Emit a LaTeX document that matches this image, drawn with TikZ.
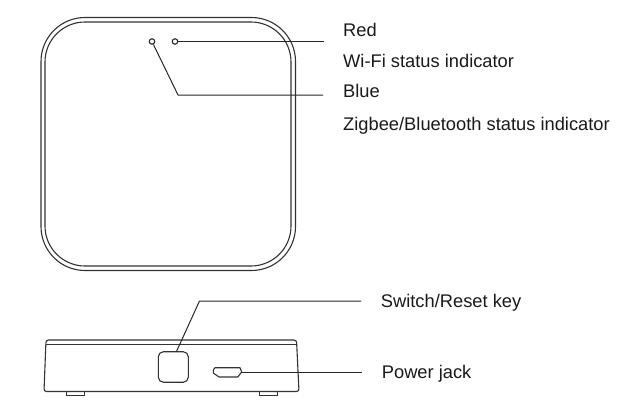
\documentclass[tikz,border=0pt]{standalone}
\usepackage{fontspec}
\setmainfont{Liberation Sans}
\tikzset{
  x=1pt,y=-1pt,
  body/.style={draw=black!80,line width=1.1pt},
  lead/.style={draw=black!85,line width=1pt,line join=round},
  led/.style={circle,draw=black!85,line width=1.1pt,fill=white,minimum size=5.5pt,inner sep=0pt},
  lbl/.style={anchor=base west,inner sep=0pt,font=\fontsize{18.3}{20}\selectfont,text=black!90}
}
\begin{document}
\begin{tikzpicture}
\useasboundingbox (0,0) rectangle (622,418);
% top view
\draw[body,rounded corners=44pt] (41,17.5) rectangle (295.5,270.5);
\draw[body,rounded corners=40pt] (45,22) rectangle (291,266);
\node[led] (ledb) at (152,41.5) {};
\node[led] (ledr) at (175,41.5) {};
\coordinate (redend) at (324,41.5);
\coordinate (bluebend) at (178,95);
\coordinate (blueend) at (323,95);
\draw[lead] (ledr) -- (redend);
\draw[lead] (ledb) -- (bluebend) -- (blueend);
\node[lbl] (t1) at (343,36) {Red};
\node[lbl] (t2) at (343,67) {Wi-Fi status indicator};
\node[lbl] (t3) at (343,97.3) {Blue};
\node[lbl] (t4) at (343,130) {Zigbee/Bluetooth status indicator};
% side view
\draw[body] (66.3,392) -- (66.3,395.5) -- (84.5,395.5) -- (84.5,392);
\draw[body] (259.5,392) -- (259.5,395.5) -- (277.5,395.5) -- (277.5,392);
\draw[body,rounded corners=2.5pt] (44,391.5) -- (46,340) -- (296.5,340) -- (299,391.5) -- cycle;
\draw[body] (45.8,344.5) -- (296.8,344.5);
\node[draw=black!80,line width=1.1pt,rounded corners=5pt,minimum width=30pt,minimum height=30.5pt,inner sep=0pt] (key) at (173.3,367) {};
\draw[body,line join=round] (215,367.7) -- (240,367.7) -- (241.7,372) -- (237.7,377) -- (219,377) -- (213.3,373) -- (213.3,370) -- cycle;
\coordinate (jack) at (241.7,372);
\coordinate (jackend) at (362,372);
\coordinate (keybend) at (199.5,301);
\coordinate (keyend) at (361,301);
\draw[lead] (jack) -- (jackend);
\draw[lead] (key.north) ++(3.3,0) coordinate (keytop) -- (keybend) -- (keyend);
\node[lbl] (t5) at (380.7,307) {Switch/Reset key};
\node[lbl] (t6) at (381.7,378.3) {Power jack};
\end{tikzpicture}
\end{document}
